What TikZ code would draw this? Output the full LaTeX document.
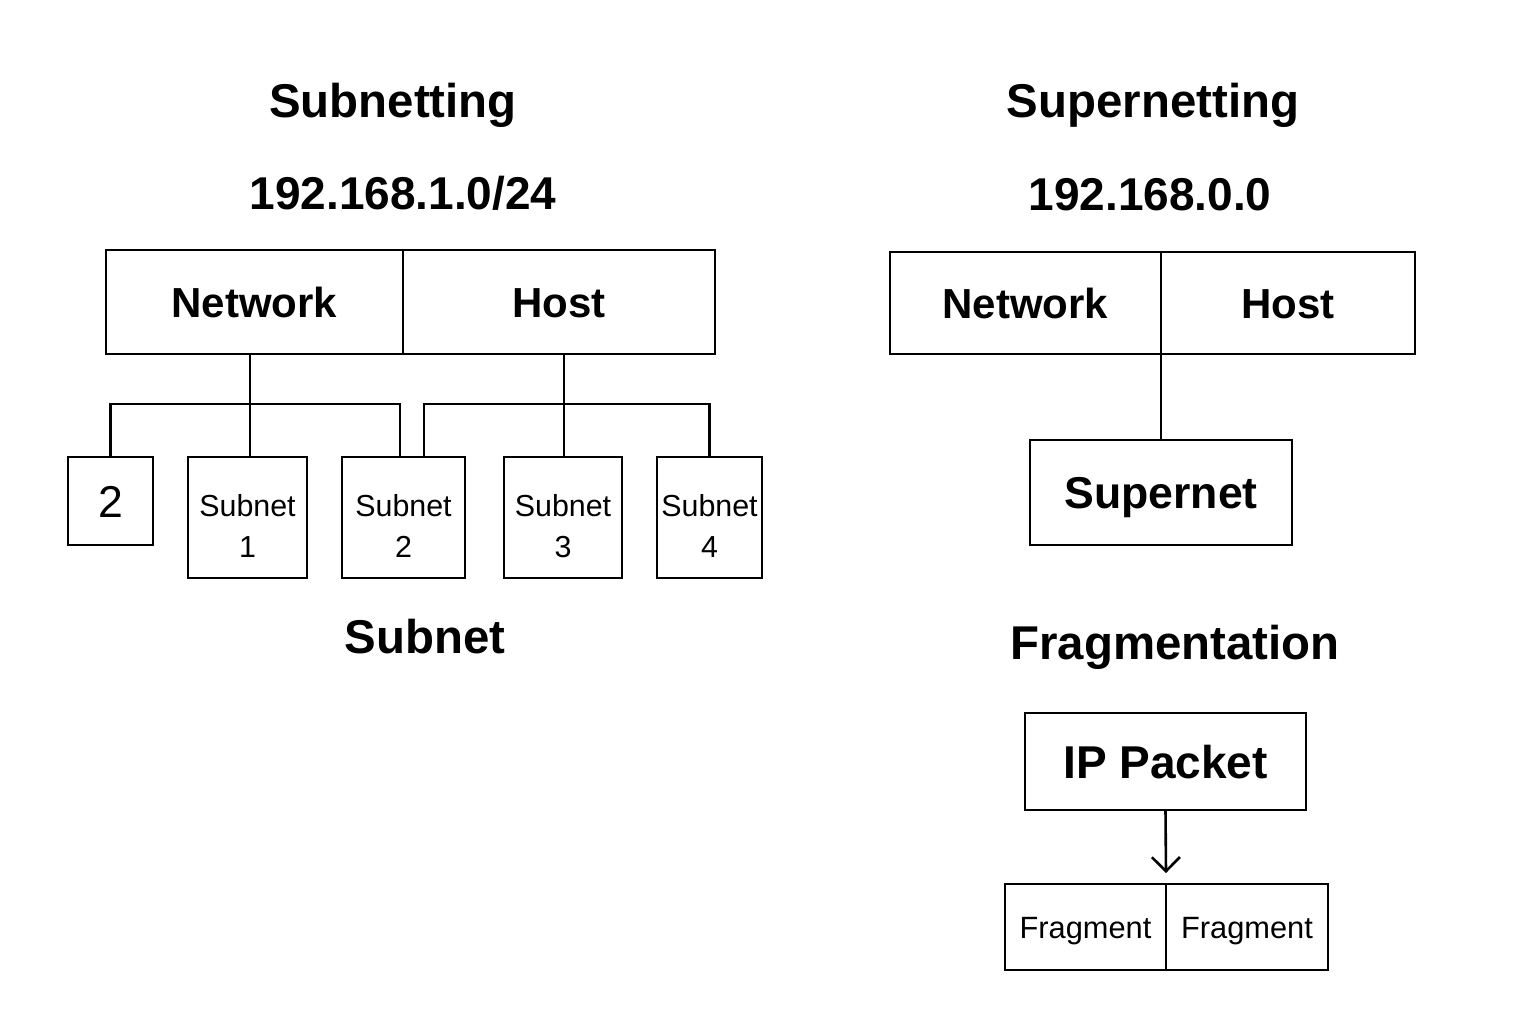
\documentclass[tikz,border=0pt]{standalone}
\usepackage{fontspec}
\setmainfont{Liberation Sans}
\usetikzlibrary{positioning,arrows.meta}

\begin{document}
\begin{tikzpicture}[x=0.5pt,y=-0.5pt,line width=1.3pt,
    box/.style={draw,rectangle,inner sep=0pt,outer sep=0pt},
    title/.style={anchor=base,font=\fontsize{23.7}{28}\selectfont\bfseries},
    addr/.style={anchor=base,font=\fontsize{23}{28}\selectfont\bfseries},
    field/.style={box,minimum height=52pt,text height=15pt,text depth=0pt,font=\fontsize{21}{25}\selectfont\bfseries},
    subbox/.style={box,minimum height=60.5pt,align=center,text height=39.5pt,text depth=0pt,font=\fontsize{15.2}{20.5}\selectfont},
    fragbox/.style={box,minimum width=81pt,minimum height=43pt,text height=11pt,text depth=0pt,font=\fontsize{15.4}{18}\selectfont}]
                \useasboundingbox (0,0) rectangle (1536,1024);
                % subnetting
                \node[title] (subtitle) at (393,117) {Subnetting};
                \node[addr] (subaddr) at (403,209) {192.168.1.0/24};
                \node[field,minimum width=148.5pt] (net) at (254.5,302) {Network};
                \node[field,minimum width=156pt,right=0pt of net] (host) {Host};
                \node[box,minimum width=42.5pt,minimum height=44pt,text height=16pt,text depth=0pt,font=\fontsize{22.3}{26}\selectfont] (two) at (110.5,501) {2};
                \node[subbox,minimum width=59.5pt] (sub1) at (247.5,517.5) {Subnet\\1};
                \node[subbox,minimum width=61.5pt] (sub2) at (403.5,517.5) {Subnet\\2};
                \node[subbox,minimum width=59pt] (sub3) at (563,517.5) {Subnet\\3};
                \node[subbox,minimum width=52.5pt] (sub4) at (709.5,517.5) {Subnet\\4};
                \node[title] (sublabel) at (425,653) {Subnet};
                \coordinate (lbus) at (250,404);
                \coordinate (rbus) at (564,404);
                \draw (lbus |- net.south) -- (lbus |- sub1.north);
                \draw (two.north) |- (lbus) -| ([xshift=-1.75pt]sub2.north);
                \draw (rbus |- host.south) -- (rbus |- sub3.north);
                \draw ([xshift=10.25pt]sub2.north) |- (rbus) -| (sub4.north);
                % supernetting
                \node[title] (suptitle) at (1153,117) {Supernetting};
                \node[addr] (supaddr) at (1150,210) {192.168.0.0};
                \node[field,minimum width=135.5pt,minimum height=51pt] (snet) at (1025.5,303) {Network};
                \node[field,minimum width=127pt,minimum height=51pt,right=0pt of snet] (shost) {Host};
                \node[box,minimum width=131pt,minimum height=52.5pt,text height=16pt,text depth=0pt,font=\fontsize{22.3}{26}\selectfont\bfseries] (snode) at (1161,492.5) {Supernet};
                \draw (snet.south east) -- (snode.north);
                % fragmentation
                \node[title] (fragtitle) at (1175,659) {Fragmentation};
                \node[box,minimum width=140.5pt,minimum height=48.5pt,text height=16.5pt,text depth=0pt,font=\fontsize{23}{27}\selectfont\bfseries] (ipp) at (1165.5,761.5) {IP Packet};
                \node[fragbox,minimum width=80.5pt] (frag1) at (1085.5,927) {Fragment};
                \node[fragbox,right=0pt of frag1] (frag2) {Fragment};
                \draw[-{Straight Barb[length=7pt,width=14pt]}] (ipp.south) -- ([yshift=5.5pt]frag1.north east);
            \end{tikzpicture}
\end{document}
